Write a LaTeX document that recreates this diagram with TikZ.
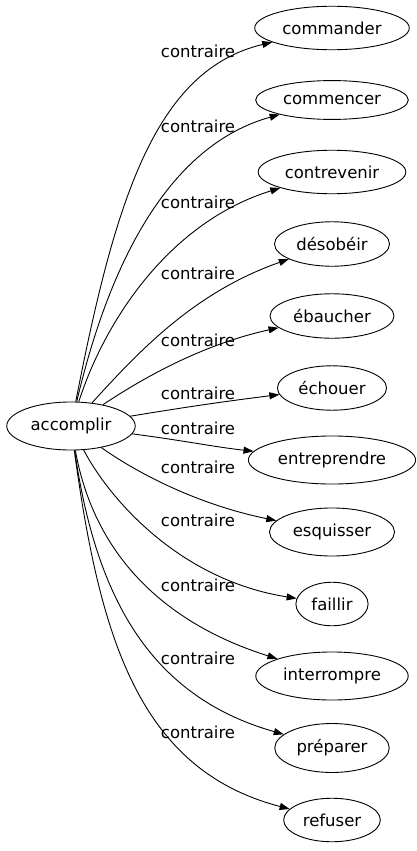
\documentclass[tikz,border=0pt]{standalone}
\usepackage{fontspec}
\setmainfont{DejaVu Sans}
\usetikzlibrary{arrows.meta,shapes.geometric}

\begin{document}
\begin{tikzpicture}[x=1pt,y=-1pt,
  word/.style={draw, ellipse, line width=0.9pt, inner xsep=5pt, inner ysep=9pt, font=\fontsize{16.5}{19}\selectfont},
  rel/.style={font=\fontsize{16.5}{19}\selectfont},
  link/.style={line width=0.9pt, -{Triangle[length=10pt,width=7pt]}}]
\useasboundingbox (0,0) rectangle (417,851);

\node[word] (accomplir) at (71,426) {accomplir};

\node[word] (commander) at (332,28) {commander};
\node[word] (commencer) at (332,100) {commencer};
\node[word] (contrevenir) at (332,172) {contrevenir};
\node[word] (desobeir) at (332,244) {désobéir};
\node[word] (ebaucher) at (332,316) {ébaucher};
\node[word] (echouer) at (332,388) {échouer};
\node[word] (entreprendre) at (332,460) {entreprendre};
\node[word] (esquisser) at (332,532) {esquisser};
\node[word] (faillir) at (332,604) {faillir};
\node[word] (interrompre) at (332,676) {interrompre};
\node[word] (preparer) at (332,748) {préparer};
\node[word] (refuser) at (332,820) {refuser};

\draw[link] (accomplir) .. controls (115,200) and (155,70) .. (commander);
\draw[link] (accomplir) .. controls (110,260) and (170,145) .. (commencer);
\draw[link] (accomplir) .. controls (105,320) and (170,222) .. (contrevenir);
\draw[link] (accomplir) .. controls (140,350) and (195,292) .. (desobeir);
\draw[link] (accomplir) .. controls (140,380) and (200,345) .. (ebaucher);
\draw[link] (accomplir) .. controls (180,408) and (220,402) .. (echouer);
\draw[link] (accomplir) .. controls (180,440) and (215,447) .. (entreprendre);
\draw[link] (accomplir) .. controls (140,475) and (200,505) .. (esquisser);
\draw[link] (accomplir) .. controls (110,500) and (180,580) .. (faillir);
\draw[link] (accomplir) .. controls (95,560) and (170,625) .. (interrompre);
\draw[link] (accomplir) .. controls (95,590) and (145,695) .. (preparer);
\draw[link] (accomplir) .. controls (100,640) and (140,770) .. (refuser);

\node[rel] (r1) at (198,51) {contraire};
\node[rel] (r2) at (198,126) {contraire};
\node[rel] (r3) at (198,202) {contraire};
\node[rel] (r4) at (198,273) {contraire};
\node[rel] (r5) at (198,340) {contraire};
\node[rel] (r6) at (198,393) {contraire};
\node[rel] (r7) at (198,428) {contraire};
\node[rel] (r8) at (198,467) {contraire};
\node[rel] (r9) at (198,520) {contraire};
\node[rel] (r10) at (198,585) {contraire};
\node[rel] (r11) at (198,658) {contraire};
\node[rel] (r12) at (198,732) {contraire};
\end{tikzpicture}
\end{document}
